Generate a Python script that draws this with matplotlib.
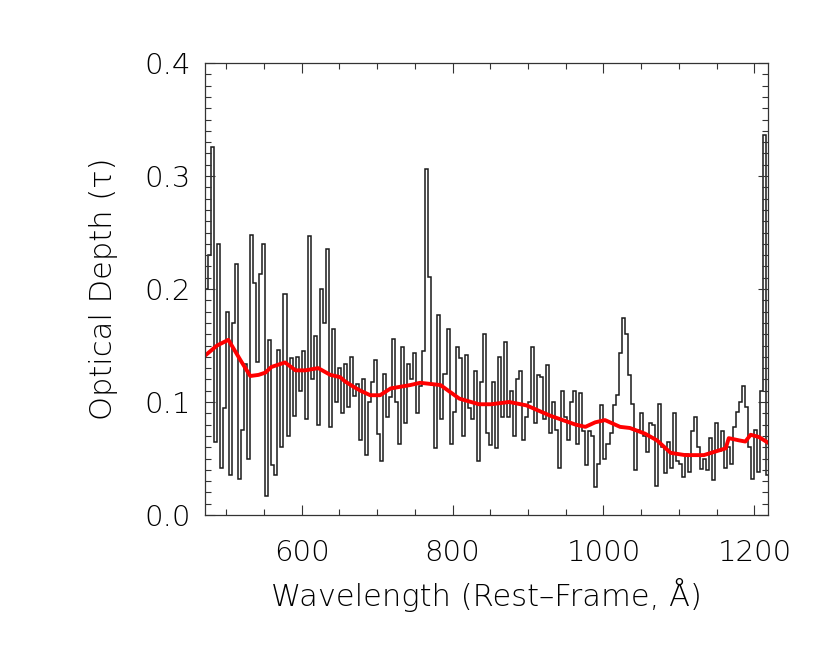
import numpy as np
import matplotlib.pyplot as plt
from matplotlib.ticker import MultipleLocator

# binned optical depth spectrum (4 A bins starting at 472 A)
bin_start = 472
bin_width = 4
tau = [
    0.20, 0.23, 0.326, 0.065, 0.24, 0.042, 0.095, 0.18, 0.035, 0.17,
    0.222, 0.032, 0.075, 0.134, 0.05, 0.248, 0.205, 0.135, 0.213, 0.24,
    0.017, 0.155, 0.044, 0.035, 0.146, 0.06, 0.196, 0.07, 0.139, 0.088,
    0.14, 0.11, 0.145, 0.085, 0.247, 0.12, 0.158, 0.08, 0.2, 0.17,
    0.235, 0.078, 0.165, 0.1, 0.13, 0.09, 0.134, 0.096, 0.14, 0.105,
    0.116, 0.066, 0.12, 0.053, 0.1, 0.118, 0.137, 0.072, 0.048, 0.125,
    0.087, 0.104, 0.156, 0.1, 0.063, 0.149, 0.081, 0.134, 0.12, 0.143,
    0.09, 0.114, 0.145, 0.306, 0.211, 0.115, 0.059, 0.177, 0.085, 0.125,
    0.165, 0.063, 0.091, 0.149, 0.139, 0.07, 0.142, 0.095, 0.085, 0.127,
    0.048, 0.118, 0.16, 0.073, 0.062, 0.118, 0.059, 0.14, 0.087, 0.153,
    0.087, 0.11, 0.07, 0.12, 0.127, 0.066, 0.087, 0.1, 0.149, 0.081,
    0.124, 0.122, 0.085, 0.133, 0.073, 0.1, 0.075, 0.042, 0.11, 0.087,
    0.066, 0.1, 0.11, 0.063, 0.108, 0.074, 0.044, 0.074, 0.07, 0.025,
    0.045, 0.097, 0.05, 0.063, 0.073, 0.097, 0.106, 0.143, 0.174, 0.16,
    0.124, 0.098, 0.04, 0.075, 0.09, 0.07, 0.056, 0.081, 0.08, 0.026,
    0.098, 0.06, 0.037, 0.065, 0.042, 0.09, 0.048, 0.045, 0.034, 0.054,
    0.038, 0.074, 0.087, 0.06, 0.041, 0.05, 0.04, 0.068, 0.031, 0.081,
    0.057, 0.074, 0.042, 0.06, 0.045, 0.078, 0.091, 0.1, 0.114, 0.096,
    0.06, 0.032, 0.075, 0.038, 0.11, 0.336, 0.035,
]

# smoothed curve
smooth_wave = [472, 488, 503, 519, 532, 543, 552, 560, 578, 592, 605, 622,
               638, 651, 658, 670, 678, 691, 704, 718, 744, 757, 784, 809,
               835, 851, 875, 898, 929, 963, 976, 989, 1002, 1022, 1035,
               1055, 1071, 1089, 1108, 1133, 1162, 1166, 1180, 1188, 1195,
               1206, 1218]
smooth_tau = [0.141, 0.150, 0.155, 0.137, 0.123, 0.124, 0.126, 0.131, 0.135,
              0.128, 0.128, 0.130, 0.124, 0.122, 0.118, 0.113, 0.110, 0.106,
              0.106, 0.112, 0.115, 0.117, 0.115, 0.103, 0.098, 0.098, 0.100,
              0.097, 0.088, 0.080, 0.078, 0.082, 0.084, 0.078, 0.077, 0.072,
              0.066, 0.055, 0.053, 0.053, 0.059, 0.068, 0.066, 0.065, 0.071,
              0.069, 0.064]

edges = bin_start + bin_width * np.arange(len(tau) + 1)

plt.rcParams['font.family'] = ['DejaVu Sans']
plt.rcParams['font.weight'] = 'light'
plt.rcParams['axes.labelweight'] = 'light'

fig = plt.figure(figsize=(8.3, 6.45), dpi=100)
ax = fig.add_axes([205 / 830, 1 - 515 / 645, 563 / 830, 452 / 645])

ax.stairs(tau, edges, color='#1a1a1a', lw=1.1)
ax.plot(smooth_wave, smooth_tau, color='red', lw=2.8)

ax.set_xlim(472, 1218)
ax.set_ylim(0, 0.4)
ax.xaxis.set_major_locator(MultipleLocator(200))
ax.xaxis.set_minor_locator(MultipleLocator(50))
ax.yaxis.set_major_locator(MultipleLocator(0.1))
ax.yaxis.set_minor_locator(MultipleLocator(0.01))
ax.yaxis.set_major_formatter(lambda v, p: f'{v:.1f}')

ax.tick_params(which='both', direction='in', top=True, right=True,
               color='#333333', width=0.8)
ax.tick_params(which='major', length=7.5)
ax.tick_params(which='minor', length=4)
ax.tick_params(axis='x', which='major', labelsize=21, pad=17)
ax.tick_params(axis='y', which='major', labelsize=21, pad=10)
for s in ax.spines.values():
    s.set_color('#333333')
    s.set_linewidth(0.9)

ax.set_xlabel('Wavelength (Rest\u2013Frame, Å)', fontsize=22, labelpad=8)
ax.set_ylabel('Optical Depth (τ)', fontsize=22, labelpad=19)

fig.savefig('out.png', dpi=100)
